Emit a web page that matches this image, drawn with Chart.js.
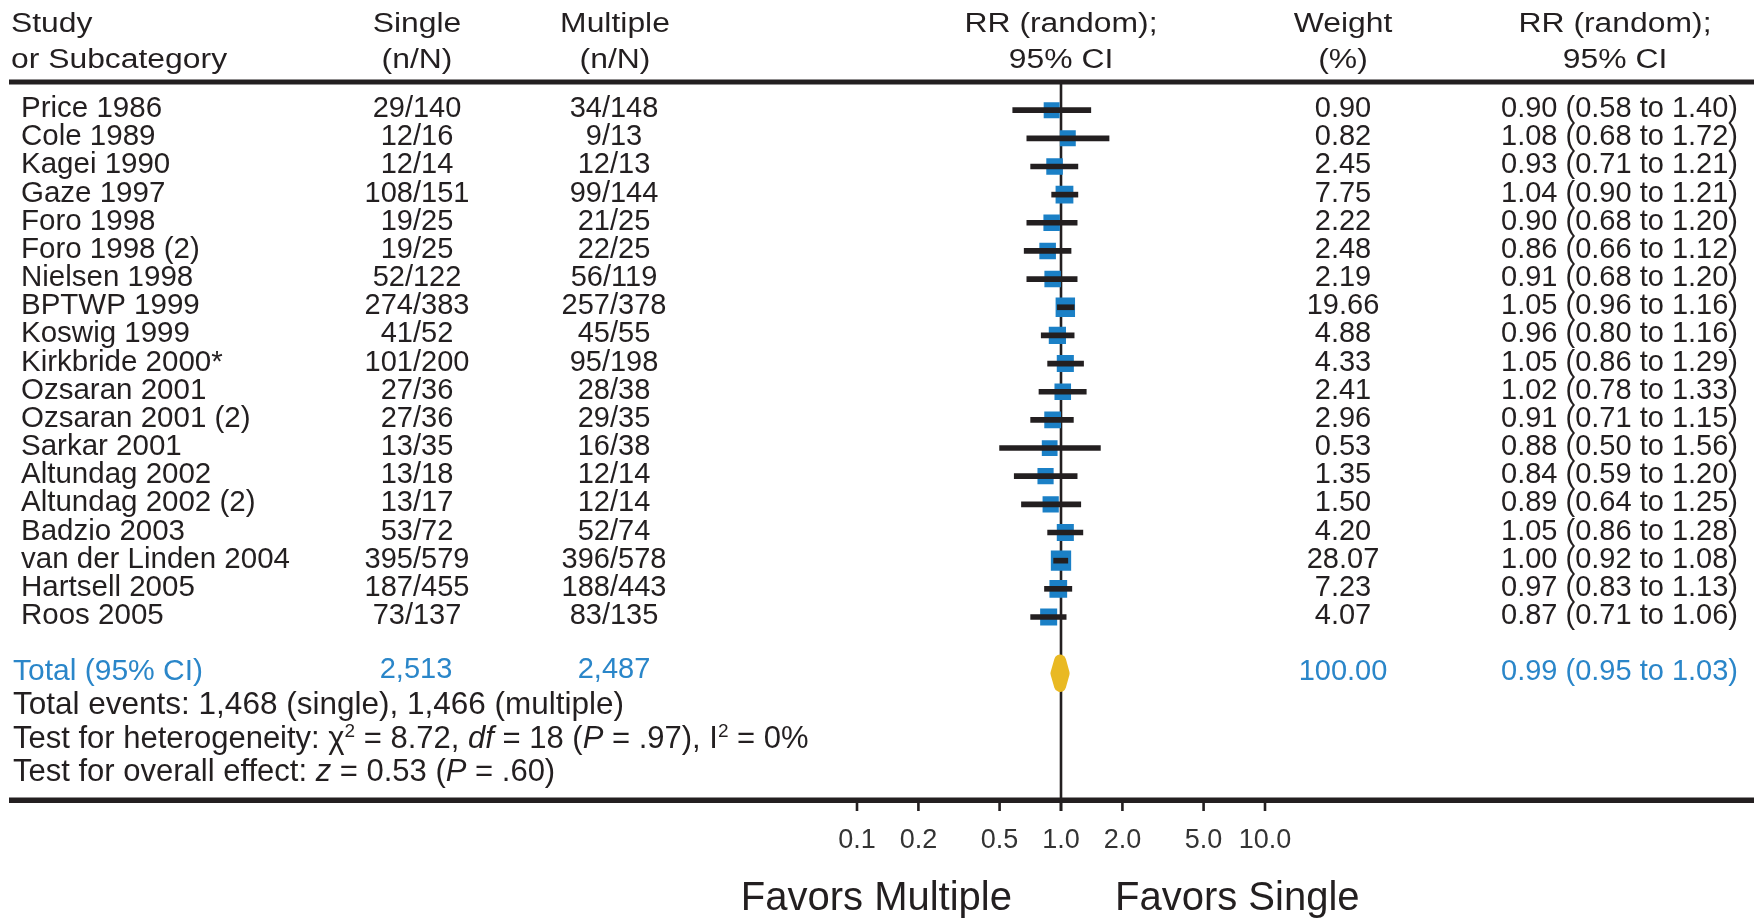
<!DOCTYPE html>
<html>
<head>
<meta charset="utf-8">
<script src="https://cdn.jsdelivr.net/npm/chart.js@4.4.1/dist/chart.umd.min.js"></script>
<style>
  body { margin: 0; background: #fff; }
  #wrap { width: 1754px; height: 919px; }
</style>
</head>
<body>
<div id="wrap"><canvas id="forest" width="1754" height="919"></canvas></div>
<script>
const studies = ['Price 1986', 'Cole 1989', 'Kagei 1990', 'Gaze 1997', 'Foro 1998', 'Foro 1998 (2)',
  'Nielsen 1998', 'BPTWP 1999', 'Koswig 1999', 'Kirkbride 2000*', 'Ozsaran 2001', 'Ozsaran 2001 (2)',
  'Sarkar 2001', 'Altundag 2002', 'Altundag 2002 (2)', 'Badzio 2003', 'van der Linden 2004',
  'Hartsell 2005', 'Roos 2005']
const single = ['29/140', '12/16', '12/14', '108/151', '19/25', '19/25', '52/122', '274/383', '41/52',
  '101/200', '27/36', '27/36', '13/35', '13/18', '13/17', '53/72', '395/579', '187/455', '73/137']
const multiple = ['34/148', '9/13', '12/13', '99/144', '21/25', '22/25', '56/119', '257/378', '45/55',
  '95/198', '28/38', '29/35', '16/38', '12/14', '12/14', '52/74', '396/578', '188/443', '83/135']
const weights = [0.90, 0.82, 2.45, 7.75, 2.22, 2.48, 2.19, 19.66, 4.88, 4.33, 2.41, 2.96, 0.53, 1.35,
  1.50, 4.20, 28.07, 7.23, 4.07]
const rr = [0.90, 1.08, 0.93, 1.04, 0.90, 0.86, 0.91, 1.05, 0.96, 1.05, 1.02, 0.91, 0.88, 0.84, 0.89,
  1.05, 1.00, 0.97, 0.87]
const lo = [0.58, 0.68, 0.71, 0.90, 0.68, 0.66, 0.68, 0.96, 0.80, 0.86, 0.78, 0.71, 0.50, 0.59, 0.64,
  0.86, 0.92, 0.83, 0.71]
const hi = [1.40, 1.72, 1.21, 1.21, 1.20, 1.12, 1.20, 1.16, 1.16, 1.29, 1.33, 1.15, 1.56, 1.20, 1.25,
  1.28, 1.08, 1.13, 1.06]

const totalRow = 20
const totalN = ['2,513', '2,487']
const totalWeight = 100.00
const totalRR = [0.99, 0.95, 1.03]   // estimate, lower, upper

const tickVals = [0.1, 0.2, 0.5, 1, 2, 5, 10]
const tickLabels = ['0.1', '0.2', '0.5', '1.0', '2.0', '5.0', '10.0']

const FONT = '"Liberation Sans", Arial, sans-serif'
const INK = '#231f20'
const BLUE = '#2a86c9'

// draws text, optionally stretched horizontally by sx
function txt(ctx, s, x, y, size, align, color, sx, style) {
  sx = sx || 1
  ctx.save()
  ctx.font = (style || '') + ' ' + size + 'px ' + FONT
  ctx.fillStyle = color
  ctx.textBaseline = 'alphabetic'
  ctx.textAlign = 'left'
  let w = ctx.measureText(s).width * sx
  let left = align === 'center' ? x - w / 2 : align === 'right' ? x - w : x
  ctx.translate(left, y)
  ctx.scale(sx, 1)
  ctx.fillText(s, 0, 0)
  ctx.restore()
}

// rich text line: parts with italic / superscript bits
function runs(ctx, parts, x, y, size, color) {
  let cx = x
  ctx.save()
  ctx.fillStyle = color
  ctx.textBaseline = 'alphabetic'
  ctx.textAlign = 'left'
  for (let p of parts) {
    let sz = p.sup ? Math.round(size * 0.6) : size
    ctx.font = (p.it ? 'italic ' : '') + sz + 'px ' + FONT
    ctx.fillText(p.t, cx, p.sup ? y - size * 0.38 : y)
    cx += ctx.measureText(p.t).width
  }
  ctx.restore()
}

const tablePlugin = {
  id: 'forestTable',
  beforeDatasetsDraw(chart) {
    const ctx = chart.ctx
    const xs = chart.scales.x
    const area = chart.chartArea
    const x1 = xs.getPixelForValue(1)
    ctx.save()
    ctx.fillStyle = INK
    ctx.fillRect(x1 - 1.3, area.top, 2.6, area.bottom - area.top + 11)
    ctx.restore()
  },
  afterDraw(chart) {
    const ctx = chart.ctx
    const xs = chart.scales.x
    const ys = chart.scales.y
    const area = chart.chartArea
    const x1 = xs.getPixelForValue(1)
    const W = chart.width

    // rules
    ctx.save()
    ctx.fillStyle = INK
    ctx.fillRect(9, area.top - 2.5, W - 9, 5)
    ctx.fillRect(9, area.bottom - 2.5, W - 9, 5.5)
    ctx.restore()

    // header
    const h1 = area.top - 50, h2 = area.top - 14
    const hs = 27, hx = 1.18
    txt(ctx, 'Study', 11, h1, hs, 'left', INK, hx)
    txt(ctx, 'or Subcategory', 11, h2, hs, 'left', INK, hx)
    txt(ctx, 'Single', 417, h1, hs, 'center', INK, hx)
    txt(ctx, '(n/N)', 417, h2, hs, 'center', INK, hx)
    txt(ctx, 'Multiple', 615, h1, hs, 'center', INK, hx)
    txt(ctx, '(n/N)', 615, h2, hs, 'center', INK, hx)
    txt(ctx, 'RR (random);', x1, h1, hs, 'center', INK, hx)
    txt(ctx, '95% CI', x1, h2, hs, 'center', INK, hx)
    txt(ctx, 'Weight', 1343, h1, hs, 'center', INK, hx)
    txt(ctx, '(%)', 1343, h2, hs, 'center', INK, hx)
    txt(ctx, 'RR (random);', 1615, h1, hs, 'center', INK, hx)
    txt(ctx, '95% CI', 1615, h2, hs, 'center', INK, hx)

    // study rows
    studies.forEach((s, i) => {
      const y = ys.getPixelForValue(i) + 7
      txt(ctx, s, 21, y, 29.5, 'left', INK)
      txt(ctx, single[i], 417, y, 29, 'center', INK)
      txt(ctx, multiple[i], 614, y, 29, 'center', INK)
      txt(ctx, weights[i].toFixed(2), 1343, y, 29, 'center', INK)
      txt(ctx, rr[i].toFixed(2) + ' (' + lo[i].toFixed(2) + ' to ' + hi[i].toFixed(2) + ')', 1738, y, 29, 'right', INK)
    })

    // total row
    const ty = ys.getPixelForValue(totalRow) + 7
    txt(ctx, 'Total (95% CI)', 13, ty, 30, 'left', BLUE)
    txt(ctx, totalN[0], 416, ty - 2, 29, 'center', BLUE)
    txt(ctx, totalN[1], 614, ty - 2, 29, 'center', BLUE)
    txt(ctx, totalWeight.toFixed(2), 1343, ty, 29, 'center', BLUE)
    txt(ctx, totalRR[0].toFixed(2) + ' (' + totalRR[1].toFixed(2) + ' to ' + totalRR[2].toFixed(2) + ')', 1738, ty, 29, 'right', BLUE)

    // stats
    runs(ctx, [{ t: 'Total events: 1,468 (single), 1,466 (multiple)' }], 13, ty + 34, 31.5, INK)
    runs(ctx, [{ t: 'Test for heterogeneity: ' }, { t: 'χ' }, { t: '2', sup: true }, { t: ' = 8.72, ' },
      { t: 'df', it: true }, { t: ' = 18 (' }, { t: 'P', it: true }, { t: ' = .97), I' }, { t: '2', sup: true },
      { t: ' = 0%' }], 13, ty + 68, 31, INK)
    runs(ctx, [{ t: 'Test for overall effect: ' }, { t: 'z', it: true }, { t: ' = 0.53 (' }, { t: 'P', it: true },
      { t: ' = .60)' }], 13, ty + 101, 31, INK)

    // x axis ticks
    ctx.save()
    ctx.fillStyle = INK
    tickVals.forEach((v, k) => {
      const px = xs.getPixelForValue(v)
      ctx.fillRect(px - 1.3, area.bottom, 2.6, 11)
      txt(ctx, tickLabels[k], px, area.bottom + 48, 27, 'center', '#333')
    })
    ctx.restore()

    txt(ctx, 'Favors Multiple', x1 - 49, area.bottom + 110, 40, 'right', INK)
    txt(ctx, 'Favors Single', x1 + 54, area.bottom + 110, 40, 'left', INK)
  }
}

const ctx = document.getElementById('forest').getContext('2d')
new Chart(ctx, {
  type: 'bar',
  data: {
    datasets: [
      {
        // confidence intervals as floating bars
        type: 'bar',
        indexAxis: 'y',
        data: studies.map((s, i) => ({ y: i, x: [lo[i], hi[i]] })),
        backgroundColor: INK,
        barThickness: 5,
        grouped: false,
        order: 1
      },
      {
        type: 'scatter',
        data: studies.map((s, i) => ({ x: rr[i], y: i })),
        pointStyle: 'rect',
        pointRadius: weights.map(w => (13 + Math.sqrt(w)) / 1.414),
        backgroundColor: '#1b80c6',
        borderColor: '#1b80c6',
        borderWidth: 2,
        order: 2
      },
      {
        // pooled estimate diamond
        type: 'line',
        data: [
          { x: totalRR[1], y: totalRow },
          { x: totalRR[0], y: totalRow - 0.45 },
          { x: totalRR[2], y: totalRow },
          { x: totalRR[0], y: totalRow + 0.45 },
          { x: totalRR[1], y: totalRow }
        ],
        borderColor: '#e9b923',
        borderWidth: 12,
        borderJoinStyle: 'round',
        borderCapStyle: 'round',
        pointRadius: 0,
        fill: false,
        tension: 0,
        order: 0
      }
    ]
  },
  options: {
    responsive: false,
    animation: false,
    events: [],
    indexAxis: 'y',
    layout: { padding: { left: 857, right: 489, top: 82, bottom: 119 } },
    scales: {
      x: { type: 'logarithmic', min: 0.1, max: 10, offset: false, display: false },
      y: { type: 'linear', min: -1, max: 24.5, reverse: true, offset: false, display: false }
    },
    plugins: {
      legend: { display: false },
      tooltip: { enabled: false }
    }
  },
  plugins: [tablePlugin]
})
</script>
</body>
</html>
